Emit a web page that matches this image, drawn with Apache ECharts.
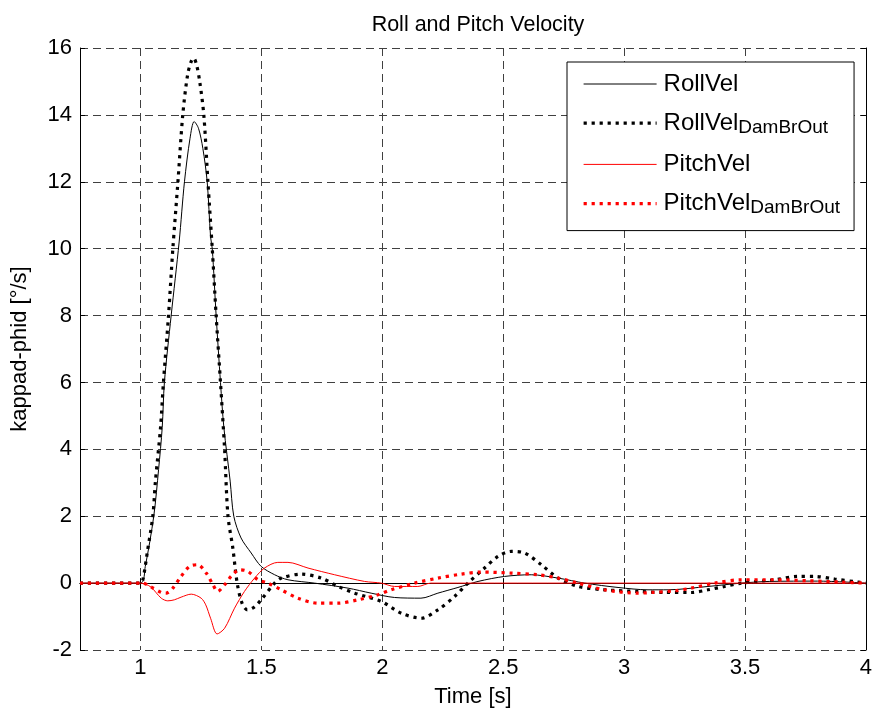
<!DOCTYPE html>
<html><head><meta charset="utf-8">
<script src="https://cdn.jsdelivr.net/npm/echarts@6/dist/echarts.min.js"></script>
<style>html,body{margin:0;padding:0;background:#fff}#c{width:875px;height:715px}</style>
</head><body><div id="c"></div>
<script>
const titleText = 'Roll and Pitch Velocity';
const xName = 'Time [s]';
const yName = 'kappad-phid [°/s]';
const xTicks = [1, 1.5, 2, 2.5, 3, 3.5, 4];
const seriesNames = ['RollVel', 'RollVelDamBrOut', 'PitchVel', 'PitchVelDamBrOut'];
const legendMain = ['RollVel', 'RollVel', 'PitchVel', 'PitchVel'];
const legendSub = ['', 'DamBrOut', '', 'DamBrOut'];

const rollT = [0.75, 1.0, 1.02, 1.055, 1.075, 1.09, 1.099, 1.127, 1.16, 1.182, 1.205, 1.222, 1.24, 1.258, 1.276, 1.29, 1.297, 1.313, 1.331, 1.345, 1.371, 1.386, 1.416, 1.458, 1.499, 1.555, 1.61, 1.72, 1.858, 1.954, 2.051, 2.16, 2.23, 2.313, 2.396, 2.506, 2.616, 2.727, 2.837, 2.975, 3.099, 3.182, 3.347, 3.485, 3.6, 3.8, 4.0];
const rollV = [0, 0, 0.5, 2, 3.4, 4.65, 6, 8, 10.2, 12, 13.3, 13.8, 13.6, 13.0, 12, 10.35, 10, 8, 6, 4.65, 3.05, 2, 1.35, 0.9, 0.5, 0.25, 0.1, 0, -0.15, -0.3, -0.43, -0.45, -0.3, -0.13, 0.05, 0.2, 0.25, 0.15, 0, -0.13, -0.2, -0.2, -0.1, 0, 0.05, 0.06, 0];

const rollDT = [0.75, 1.0, 1.01, 1.03, 1.051, 1.062, 1.083, 1.095, 1.116, 1.134, 1.155, 1.175, 1.195, 1.21, 1.22, 1.232, 1.245, 1.262, 1.279, 1.297, 1.313, 1.331, 1.348, 1.362, 1.382, 1.4, 1.42, 1.442, 1.47, 1.499, 1.555, 1.583, 1.665, 1.748, 1.817, 1.886, 1.996, 2.079, 2.161, 2.23, 2.299, 2.354, 2.423, 2.479, 2.534, 2.589, 2.658, 2.727, 2.81, 2.92, 3.058, 3.168, 3.278, 3.347, 3.416, 3.485, 3.623, 3.72, 3.789, 3.871, 3.968, 4.0];
const rollDV = [0, 0, 0.1, 1.0, 2, 3.05, 4.65, 6, 8, 10, 12, 14, 15.2, 15.6, 15.7, 15.5, 15.0, 14, 12, 10, 8, 6, 4, 2, 1.05, 0, -0.6, -0.8, -0.72, -0.5, 0, 0.15, 0.27, 0.15, -0.1, -0.3, -0.55, -0.9, -1.05, -0.8, -0.4, 0, 0.45, 0.8, 0.95, 0.9, 0.55, 0.15, -0.1, -0.2, -0.25, -0.28, -0.28, -0.2, -0.1, 0, 0.1, 0.2, 0.2, 0.12, 0.03, 0];

const pitchT = [0.75, 1.0, 1.02, 1.044, 1.086, 1.113, 1.14, 1.168, 1.21, 1.251, 1.27, 1.29, 1.317, 1.348, 1.389, 1.43, 1.472, 1.513, 1.568, 1.61, 1.693, 1.803, 1.927, 1.996, 2.051, 2.147, 2.2, 2.5, 3.0, 3.5, 4.0];
const pitchV = [0, 0, -0.03, -0.12, -0.45, -0.53, -0.5, -0.42, -0.33, -0.45, -0.65, -1.05, -1.52, -1.35, -0.75, -0.25, 0.15, 0.45, 0.62, 0.62, 0.45, 0.25, 0.05, 0, -0.1, -0.1, 0, 0, 0, 0, 0];

const pitchDT = [0.75, 1.0, 1.01, 1.04, 1.086, 1.106, 1.134, 1.168, 1.203, 1.237, 1.272, 1.3, 1.319, 1.348, 1.375, 1.41, 1.444, 1.486, 1.527, 1.582, 1.651, 1.734, 1.817, 1.899, 1.982, 2.037, 2.133, 2.23, 2.327, 2.41, 2.534, 2.644, 2.727, 2.81, 2.92, 3.058, 3.113, 3.21, 3.278, 3.375, 3.485, 3.623, 3.761, 3.899, 4.0];
const pitchDV = [0, 0, 0, -0.1, -0.28, -0.3, -0.15, 0.2, 0.5, 0.55, 0.3, -0.05, -0.25, -0.05, 0.2, 0.4, 0.35, 0.1, 0, -0.2, -0.45, -0.6, -0.6, -0.5, -0.35, -0.2, 0, 0.15, 0.27, 0.33, 0.3, 0.25, 0.15, 0, -0.2, -0.3, -0.28, -0.23, -0.15, 0, 0.1, 0.1, 0.07, 0.03, 0];

const zip = (t, v) => t.map((x, i) => [x, v[i]]);
const FONT = 'Liberation Sans, Arial, sans-serif';

const chart = echarts.init(document.getElementById('c'), null, {renderer: 'canvas'});

const baseX = {
  type: 'value', min: 0.75, max: 4,
  axisLine: {show: true, lineStyle: {color: '#000', width: 1}},
  axisTick: {show: true, inside: true, length: 5, customValues: xTicks, lineStyle: {color: '#000'}},
  axisLabel: {show: true, customValues: xTicks, fontSize: 22, color: '#000', margin: 7, fontFamily: FONT},
  splitLine: {show: false}
};
const baseY = {
  type: 'value', min: -2, max: 16, interval: 2,
  axisLine: {show: true, lineStyle: {color: '#000', width: 1}},
  axisTick: {show: true, inside: true, length: 5, lineStyle: {color: '#000'}},
  axisLabel: {show: true, fontSize: 22, color: '#000', margin: 8, fontFamily: FONT},
  splitLine: {show: false}
};

const gridLine = {show: true, lineStyle: {color: '#404040', width: 1, type: [8, 5]}};

const DOT = [3.2, 4.8];
const styles = [
  {color: '#000', width: 1, type: 'solid'},
  {color: '#000', width: 3.2, type: DOT},
  {color: '#ff0000', width: 1, type: 'solid'},
  {color: '#ff0000', width: 3.2, type: DOT}
];
const datas = [zip(rollT, rollV), zip(rollDT, rollDV), zip(pitchT, pitchV), zip(pitchDT, pitchDV)];

chart.setOption({
  animation: false,
  backgroundColor: '#fff',
  title: {
    text: titleText, left: 473, top: 9, textAlign: 'center',
    textStyle: {fontSize: 21.5, fontWeight: 'normal', color: '#000', fontFamily: FONT}
  },
  grid: {left: 80, right: 9, top: 48, bottom: 65, containLabel: false},
  xAxis: [
    Object.assign({}, baseX, {position: 'bottom', splitLine: gridLine,
      name: xName, nameLocation: 'middle', nameGap: 36,
      nameTextStyle: {fontSize: 22, color: '#000', fontFamily: FONT}}),
    Object.assign({}, baseX, {position: 'top', axisLabel: {show: false, customValues: xTicks}})
  ],
  yAxis: [
    Object.assign({}, baseY, {position: 'left', splitLine: gridLine,
      name: yName, nameLocation: 'middle', nameGap: 49, nameRotate: 90,
      nameTextStyle: {fontSize: 22, color: '#000', fontFamily: FONT}}),
    Object.assign({}, baseY, {position: 'right', axisLabel: {show: false}})
  ],
  legend: {
    orient: 'vertical', left: 567, top: 62,
    itemWidth: 73, itemHeight: 2, itemGap: 15.2,
    padding: [10, 14, 13, 15],
    borderColor: '#000', borderWidth: 1, backgroundColor: '#fff',
    itemStyle: {opacity: 0},
    data: seriesNames.map((n, i) => ({
      name: n,
      itemStyle: {opacity: 0},
      lineStyle: {width: styles[i].width, type: styles[i].type, color: styles[i].color}
    })),
    formatter: function (name) {
      const i = seriesNames.indexOf(name);
      return '{a|' + legendMain[i] + '}' + (legendSub[i] ? '{b|' + legendSub[i] + '}' : '');
    },
    textStyle: {
      color: '#000', fontFamily: FONT,
      rich: {
        a: {fontSize: 24, lineHeight: 28, color: '#000', fontFamily: FONT, padding: [0, 0, 0, 2]},
        b: {fontSize: 19, lineHeight: 6, verticalAlign: 'bottom', color: '#000', fontFamily: FONT}
      }
    }
  },
  series: seriesNames.map((n, i) => ({
    name: n, type: 'line', xAxisIndex: 0, yAxisIndex: 0,
    data: datas[i], symbol: 'none', showSymbol: false, smooth: 0.3,
    lineStyle: styles[i], itemStyle: {color: styles[i].color},
    z: 2 + i
  }))
});
</script>
</body></html>
